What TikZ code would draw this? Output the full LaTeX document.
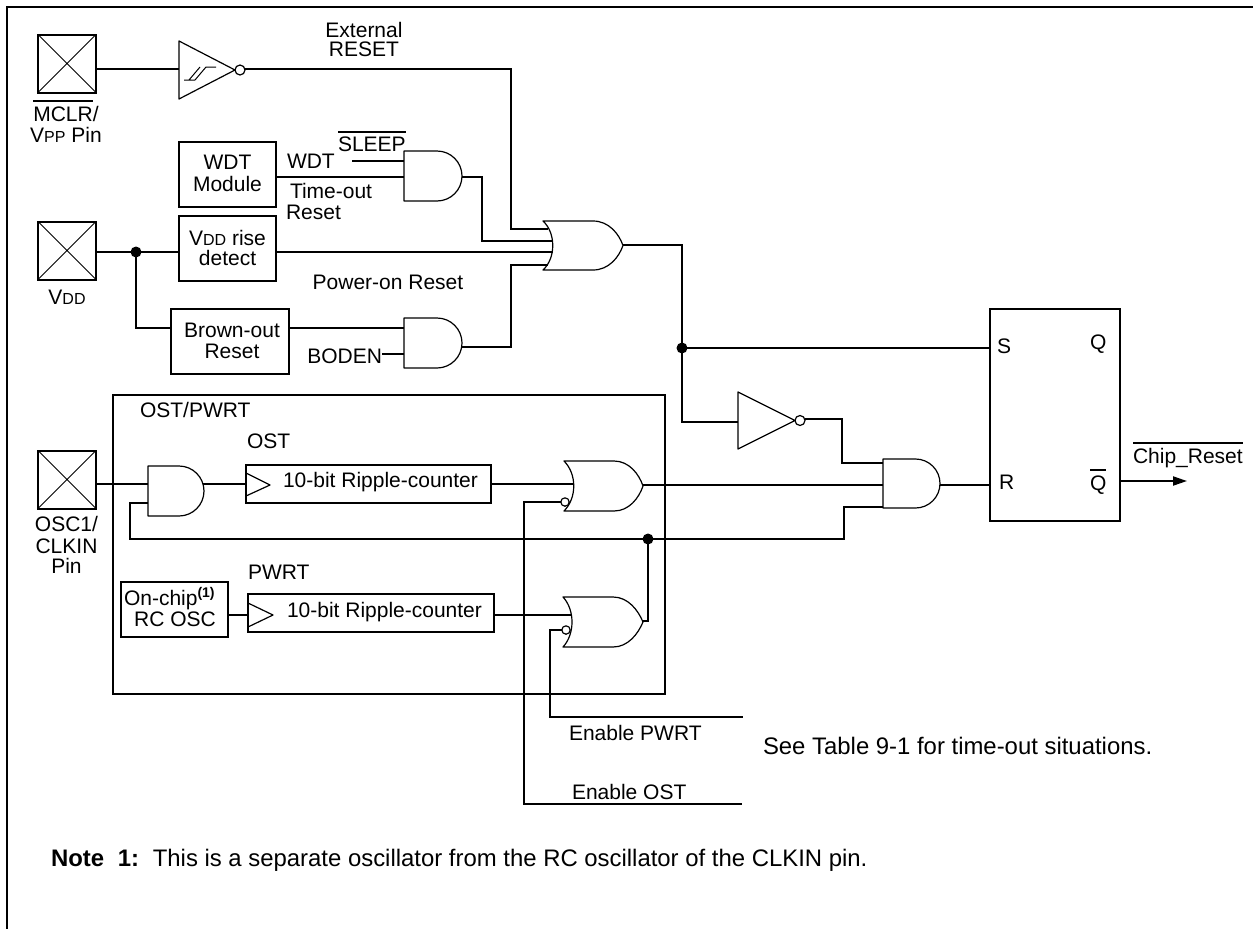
\documentclass[tikz,border=0pt]{standalone}
\usepackage{fontspec}
\setmainfont{Liberation Sans}
\usetikzlibrary{arrows.meta}
\newcommand\ovl[1]{\setbox0\hbox{#1}\rlap{\rule[19pt]{\wd0}{1.8pt}}\box0}
\newcommand\smc[1]{{\fontsize{16}{16}\selectfont #1}}
\newcommand\fz{\fontsize{21}{21}\selectfont}
\newcommand\fzb{\fontsize{23.9}{24}\selectfont}
\begin{document}
\begin{tikzpicture}[x=1pt,y=-1pt,
  every node/.style={inner sep=0pt,outer sep=0pt,font=\fz},
  wire/.style={line width=2pt,line cap=butt},
  gate/.style={line width=1.2pt,line join=round},
  blk/.style={draw,line width=2pt,inner sep=0pt},
  pinbox/.style={draw,line width=2pt,minimum width=58pt,minimum height=58pt,inner sep=0pt,
    path picture={\draw[line width=1pt] (path picture bounding box.north west) -- (path picture bounding box.south east)
      (path picture bounding box.south west) -- (path picture bounding box.north east);}}]
\useasboundingbox (0,0) rectangle (1253,929);
% frame
\draw[line width=2.5pt] (7,929) -- (7,7) -- (1253,7);
% OST/PWRT enclosure
\draw[line width=2pt] (113,395) rectangle (665,694);

% pins
\node[pinbox] (mclr) at (67,63.5) {};
\node[pinbox] (vdd) at (67,250.5) {};
\node[pinbox] (osc) at (67,479.5) {};

% blocks
\node[blk,minimum width=97pt,minimum height=65pt] (wdt) at (227.5,174.5) {};
\node[blk,minimum width=97pt,minimum height=65pt] (vrise) at (227.5,248.5) {};
\node[blk,minimum width=118pt,minimum height=65pt] (bor) at (230,341.5) {};
\node[blk,minimum width=245pt,minimum height=38pt] (cntA) at (368.5,484) {};
\node[blk,minimum width=246pt,minimum height=38pt] (cntB) at (371,613) {};
\node[blk,minimum width=107pt,minimum height=55pt] (rcosc) at (174.5,609.5) {};
\node[blk,minimum width=130pt,minimum height=212pt] (ff) at (1055,415) {};

% clock triangles in counters
\draw[gate] (246,473) -- (270,485) -- (246,496);
\draw[gate] (248,603) -- (273,615) -- (248,627);

% Schmitt trigger inverter
\draw[gate] (179,41) -- (235,70) -- (179,99) -- cycle;
\draw[gate,fill=white] (240,70) circle[radius=5pt];
\draw[line width=1pt] (184,80) -- (195,80) -- (206,67) -- (216,67) (189,80) -- (200,67);
\coordinate (sbin) at (179,69);
\coordinate (sbout) at (245,69);

% inverter
\draw[gate] (738,392) -- (795,420.5) -- (738,449) -- cycle;
\draw[gate,fill=white] (800,420.5) circle[radius=5pt];
\coordinate (invin) at (738,422);
\coordinate (invout) at (805,419);

% AND gates
\draw[gate] (404,151) -- (437,151) .. controls (450.8,151) and (462,162.2) .. (462,176) .. controls (462,189.8) and (450.8,201) .. (437,201) -- (404,201) -- cycle;
\draw[gate] (404,318) -- (437,318) .. controls (450.8,318) and (462,329.2) .. (462,343) .. controls (462,356.8) and (450.8,368) .. (437,368) -- (404,368) -- cycle;
\draw[gate] (148,466) -- (179,466) .. controls (192.8,466) and (204,477.2) .. (204,491) .. controls (204,504.8) and (192.8,516) .. (179,516) -- (148,516) -- cycle;
\draw[gate] (883,459) -- (915.5,459) .. controls (929,459) and (940,470) .. (940,483.5) .. controls (940,497) and (929,508) .. (915.5,508) -- (883,508) -- cycle;
\coordinate (a1i1) at (404,161); \coordinate (a1i2) at (404,177); \coordinate (a1o) at (462,177);
\coordinate (a2i1) at (404,328); \coordinate (a2i2) at (404,354); \coordinate (a2o) at (462,347);
\coordinate (a3i1) at (148,484); \coordinate (a3i2) at (148,503); \coordinate (a3o) at (203,484);
\coordinate (a4i1) at (883,463); \coordinate (a4i2) at (883,485); \coordinate (a4i3) at (883,507); \coordinate (a4o) at (940,485);

% OR gates
\draw[gate] (543,221) -- (593,221) .. controls (609,221) and (619,234) .. (623,245.5) .. controls (619,257) and (609,270) .. (593,270) -- (543,270) .. controls (556,258) and (556,233) .. (543,221) -- cycle;
\draw[gate] (564,461) -- (614,461) .. controls (629,461) and (639,474) .. (643,486) .. controls (639,498) and (629,511) .. (614,511) -- (564,511) .. controls (577,498) and (577,474) .. (564,461) -- cycle;
\draw[gate] (563,597) -- (613,597) .. controls (628,597) and (638,610) .. (643,622) .. controls (638,634) and (628,647) .. (613,647) -- (563,647) .. controls (575,634) and (575,610) .. (563,597) -- cycle;
\draw[gate,fill=white] (565,502) circle[radius=4.2pt];
\draw[gate,fill=white] (566,630) circle[radius=4.2pt];
\coordinate (o0i1) at (548,229); \coordinate (o0i2) at (552,241); \coordinate (o0i3) at (553,252); \coordinate (o0i4) at (548,265); \coordinate (o0o) at (623,245);
\coordinate (o1i1) at (574,484); \coordinate (o1i2) at (561,502); \coordinate (o1o) at (643,485);
\coordinate (o2i1) at (571,615); \coordinate (o2i2) at (562,630); \coordinate (o2o) at (643,621);

% flip-flop pins
\coordinate (ffS) at (990,348);
\coordinate (ffR) at (990,485);
\coordinate (ffQb) at (1120,481);
\coordinate (outend) at (1187,481);

% junctions and free ends
\coordinate (j1) at (136,252);
\coordinate (j2) at (682,348);
\coordinate (j3) at (648,539);
\coordinate (enP) at (743,717);
\coordinate (enO) at (742,804);

% wires
\draw[wire] (mclr.east |- sbin) -- (sbin);
\draw[wire] (sbout) -- (511,69) -- (511,229) -- (o0i1);
\draw[wire] (352,161) -- (a1i1);
\draw[wire] (wdt.east |- a1i2) -- (a1i2);
\draw[wire] (a1o) -- (482,177) -- (482,241) -- (o0i2);
\draw[wire] (97,252) -- (vrise.west |- j1);
\draw[wire] (vrise.east |- o0i3) -- (o0i3);
\draw[wire] (j1) -- (136,328) -- (bor.west |- 0,328);
\draw[wire] (bor.east |- a2i1) -- (a2i1);
\draw[wire] (382,354) -- (a2i2);
\draw[wire] (a2o) -- (511,347) -- (511,265) -- (o0i4);
\draw[wire] (o0o) -- (682,245) -- (682,422) -- (invin);
\draw[wire] (j2) -- (ffS);
\draw[wire] (invout) -- (842,419) -- (842,463) -- (a4i1);
\draw[wire] (osc.east |- a3i1) -- (a3i1);
\draw[wire] (a3o) -- (cntA.west |- a3o);
\draw[wire] (cntA.east |- o1i1) -- (o1i1);
\draw[wire] (o1o) -- (a4i2);
\draw[wire] (a3i2) -- (130,503) -- (130,539) -- (844,539) -- (844,507) -- (a4i3);
\draw[wire] (j3) -- (648,621) -- (o2o);
\draw[wire] (o1i2) -- (524,502) -- (524,804) -- (enO);
\draw[wire] (rcosc.east |- 0,615) -- (cntB.west |- 0,615);
\draw[wire] (cntB.east |- o2i1) -- (o2i1);
\draw[wire] (o2i2) -- (550,630) -- (550,717) -- (enP);
\draw[wire] (a4o) -- (ffR);
\draw[wire,-{Triangle[length=14pt,width=9pt]}] (ffQb) -- (outend);
\fill (j1) circle[radius=5.5pt];
\fill (j2) circle[radius=5.5pt];
\fill (j3) circle[radius=5.5pt];

% texts
\node[anchor=base] (tExt1) at (364,37) {External};
\node[anchor=base] (tExt2) at (364,56.5) {RESET};
\node[anchor=base] (tMclr1) at (66,121) {\ovl{MCLR}/};
\node[anchor=base] (tMclr2) at (66,142.5) {V\smc{PP} Pin};
\node[anchor=base] (tWdt1) at (227.5,169) {WDT};
\node[anchor=base] (tWdt2) at (227.5,191) {Module};
\node[anchor=base west] (tWdtL) at (287,168) {WDT};
\node[anchor=base west] (tSleep) at (338,151.5) {\ovl{SLEEP}};
\node[anchor=base west] (tTo1) at (290,198) {Time-out};
\node[anchor=base west] (tTo2) at (286,219) {Reset};
\node[anchor=base] (tVr1) at (227.5,245) {V\smc{DD} rise};
\node[anchor=base] (tVr2) at (227.5,265) {detect};
\node[anchor=base] (tVdd) at (67,304.5) {V\smc{DD}};
\node[anchor=base] (tPor) at (388,289) {Power-on Reset};
\node[anchor=base] (tBor1) at (232,337) {Brown-out};
\node[anchor=base] (tBor2) at (232,358) {Reset};
\node[anchor=base east] (tBoden) at (382,363) {BODEN};
\node[anchor=base west] (tOP) at (140,417) {OST/PWRT};
\node[anchor=base west] (tOST) at (247,448) {OST};
\node[anchor=base west] (tCntA) at (283,487) {10-bit Ripple-counter};
\node[anchor=base] (tOsc1) at (66.5,531) {OSC1/};
\node[anchor=base] (tOsc2) at (66.5,553) {CLKIN};
\node[anchor=base] (tOsc3) at (66.5,573) {Pin};
\node[anchor=base west] (tPWRT) at (248,579) {PWRT};
\node[anchor=base west] (tRc1) at (124,605) {On-chip\raisebox{8pt}{\fontsize{14}{14}\selectfont\bfseries (1)}};
\node[anchor=base] (tRc2) at (175,626) {RC OSC};
\node[anchor=base west] (tCntB) at (287,617) {10-bit Ripple-counter};
\node[anchor=base west] (tS) at (997,353) {S};
\node[anchor=base west] (tQ) at (1090,349) {Q};
\node[anchor=base west] (tR) at (999,489) {R};
\node[anchor=base west] (tQb) at (1090,490) {\ovl{Q}};
\node[anchor=base west] (tChip) at (1133,463) {\ovl{Chip\_Reset}};
\node[anchor=base west] (tEnP) at (569,740) {Enable PWRT};
\node[anchor=base west] (tEnO) at (572,799) {Enable OST};
\node[anchor=base west,font=\fzb] (tSee) at (763,754) {See Table 9-1 for time-out situations.};
\node[anchor=base west,font=\fzb] (tNote) at (51,866) {\textbf{Note\hspace{0.3em} 1:}\hspace{0.2em} This is a separate oscillator from the RC oscillator of the CLKIN pin.};
\end{tikzpicture}
\end{document}
